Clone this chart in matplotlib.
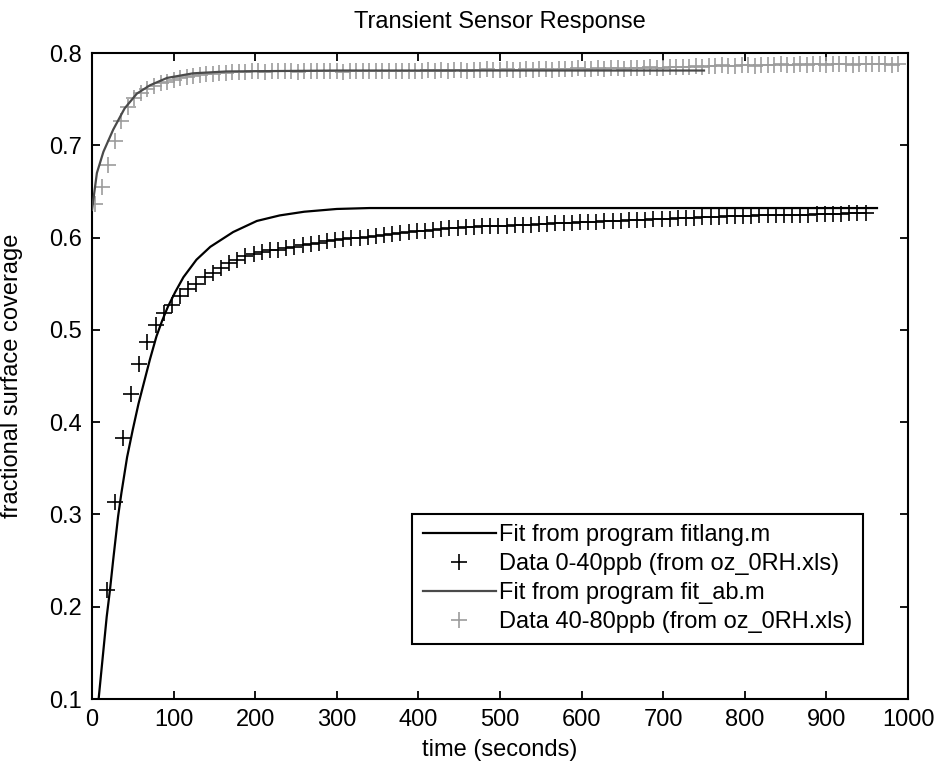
import matplotlib
matplotlib.use("Agg")
import matplotlib.pyplot as plt

plt.rcParams['font.family'] = ['Liberation Sans', 'DejaVu Sans']

# ---- data ----
fit1_t = [7, 10, 14, 18, 22, 26, 32, 36, 43, 50, 57, 64, 71, 79, 86, 93, 102, 112,
          128, 145, 173, 202, 230, 260, 300, 340, 962]
fit1_v = [0.09, 0.117, 0.153, 0.189, 0.218, 0.251, 0.298, 0.323, 0.362, 0.392, 0.42,
          0.444, 0.468, 0.493, 0.51, 0.525, 0.541, 0.557, 0.576, 0.590, 0.606, 0.618,
          0.624, 0.628, 0.631, 0.632, 0.632]

data1_t = [18, 28, 38, 48, 58, 68, 78, 88, 98, 108,
           118, 128, 138, 148, 158, 168, 178, 188, 198, 208,
           218, 228, 238, 248, 258, 268, 278, 288, 298, 308,
           318, 328, 338, 348, 358, 368, 378, 388, 398, 408,
           418, 428, 438, 448, 458, 468, 478, 488, 498, 508,
           518, 528, 538, 548, 558, 568, 578, 588, 598, 608,
           618, 628, 638, 648, 658, 668, 678, 688, 698, 708,
           718, 728, 738, 748, 758, 768, 778, 788, 798, 808,
           818, 828, 838, 848, 858, 868, 878, 888, 898, 908,
           918, 928, 938, 948]
data1_v = [0.218, 0.314, 0.383, 0.430, 0.463, 0.487, 0.505, 0.518, 0.527, 0.537,
           0.544, 0.550, 0.557, 0.562, 0.567, 0.572, 0.576, 0.580, 0.582, 0.584,
           0.586, 0.587, 0.589, 0.590, 0.592, 0.593, 0.594, 0.596, 0.597, 0.598,
           0.599, 0.600, 0.601, 0.602, 0.603, 0.604, 0.605, 0.606, 0.607, 0.607,
           0.608, 0.609, 0.610, 0.610, 0.611, 0.611, 0.612, 0.612, 0.613, 0.613,
           0.614, 0.614, 0.614, 0.615, 0.615, 0.616, 0.616, 0.616, 0.617, 0.617,
           0.617, 0.618, 0.618, 0.618, 0.619, 0.619, 0.619, 0.620, 0.620, 0.620,
           0.621, 0.621, 0.621, 0.622, 0.622, 0.622, 0.623, 0.623, 0.623, 0.623,
           0.624, 0.624, 0.624, 0.625, 0.625, 0.625, 0.625, 0.626, 0.626, 0.626,
           0.626, 0.627, 0.627, 0.627]

fit2_t = [0, 6, 14, 26, 40, 55, 71, 92, 124, 165, 300, 750]
fit2_v = [0.63, 0.67, 0.693, 0.717, 0.740, 0.756, 0.765, 0.773, 0.778, 0.780, 0.781, 0.781]

data2_t = [4, 12, 20, 28, 36, 44, 52, 60, 68, 76,
           84, 92, 100, 108, 116, 124, 132, 140, 148, 156,
           164, 172, 180, 188, 196, 204, 212, 220, 228, 236,
           244, 252, 260, 268, 276, 284, 292, 300, 308, 316,
           324, 332, 340, 348, 356, 364, 372, 380, 388, 396,
           404, 412, 420, 428, 436, 444, 452, 460, 468, 476,
           484, 492, 500, 508, 516, 524, 532, 540, 548, 556,
           564, 572, 580, 588, 596, 604, 612, 620, 628, 636,
           644, 652, 660, 668, 676, 684, 692, 700, 708, 716,
           724, 732, 740, 748, 756, 764, 772, 780, 788, 796,
           804, 812, 820, 828, 836, 844, 852, 860, 868, 876,
           884, 892, 900, 908, 916, 924, 932, 940, 948, 956,
           964, 972, 980, 988]
data2_v = [0.636, 0.655, 0.679, 0.705, 0.726, 0.742, 0.751, 0.757, 0.761, 0.764,
           0.767, 0.769, 0.771, 0.773, 0.774, 0.775, 0.776, 0.777, 0.777, 0.778,
           0.778, 0.779, 0.779, 0.779, 0.780, 0.780, 0.779, 0.780, 0.781, 0.780,
           0.780, 0.779, 0.780, 0.781, 0.780, 0.780, 0.781, 0.780, 0.779, 0.780,
           0.781, 0.780, 0.780, 0.781, 0.780, 0.781, 0.780, 0.781, 0.781, 0.780,
           0.781, 0.782, 0.781, 0.782, 0.781, 0.782, 0.782, 0.781, 0.782, 0.782,
           0.783, 0.782, 0.782, 0.783, 0.782, 0.782, 0.783, 0.782, 0.783, 0.783,
           0.782, 0.783, 0.783, 0.783, 0.784, 0.783, 0.783, 0.784, 0.783, 0.784,
           0.784, 0.783, 0.784, 0.784, 0.784, 0.785, 0.784, 0.784, 0.785, 0.785,
           0.785, 0.785, 0.786, 0.785, 0.786, 0.786, 0.787, 0.786, 0.786, 0.787,
           0.787, 0.786, 0.787, 0.787, 0.787, 0.788, 0.787, 0.787, 0.788, 0.787,
           0.788, 0.788, 0.787, 0.788, 0.788, 0.788, 0.787, 0.788, 0.788, 0.788,
           0.788, 0.788, 0.787, 0.788]

labels = ["Fit from program fitlang.m",
          "Data 0-40ppb (from oz_0RH.xls)",
          "Fit from program fit_ab.m",
          "Data 40-80ppb (from oz_0RH.xls)"]

x_ticks = [0, 100, 200, 300, 400, 500, 600, 700, 800, 900, 1000]
y_ticks = [0.1, 0.2, 0.3, 0.4, 0.5, 0.6, 0.7, 0.8]

FS = 17
GRAY = '#9c9c9c'

fig = plt.figure(figsize=(9.37, 7.68), dpi=100)
ax = fig.add_axes([92/937, 1 - 699/768, 816/937, 646/768])

ax.plot(fit1_t, fit1_v, '-', color='black', lw=1.6, label=labels[0], zorder=3)
ax.plot(data1_t, data1_v, '+', color='black', ms=11, mew=1.2, label=labels[1], zorder=2)
ax.plot(fit2_t, fit2_v, '-', color='#4a4a4a', lw=1.6, label=labels[2], zorder=3)
ax.plot(data2_t, data2_v, '+', color=GRAY, ms=11, mew=1.2, label=labels[3], zorder=2)

ax.set_xlim(0, 1000)
ax.set_ylim(0.1, 0.8)
ax.set_xticks(x_ticks)
ax.set_xticklabels([str(v) for v in x_ticks])
ax.set_yticks(y_ticks)
ax.set_yticklabels([f"{v:.1f}" for v in y_ticks])
ax.tick_params(direction='in', length=6, width=1.3, top=True, right=True,
               labelsize=FS, pad=7)
for s in ax.spines.values():
    s.set_linewidth(1.5)

ax.set_title("Transient Sensor Response", fontsize=FS, pad=18)
ax.set_xlabel("time (seconds)", fontsize=FS, labelpad=6)
ax.set_ylabel("fractional surface coverage", fontsize=FS)
ax.yaxis.set_label_coords(-0.085, 0.5)

leg = ax.legend(loc='lower right', bbox_to_anchor=(0.945, 0.085), borderaxespad=0,
                fontsize=FS, handlelength=3.1, handletextpad=0.15, borderpad=0.45,
                labelspacing=0.3, fancybox=False, frameon=True, edgecolor='black',
                framealpha=1)
leg.get_frame().set_linewidth(1.5)

fig.savefig("out.png", dpi=100)
